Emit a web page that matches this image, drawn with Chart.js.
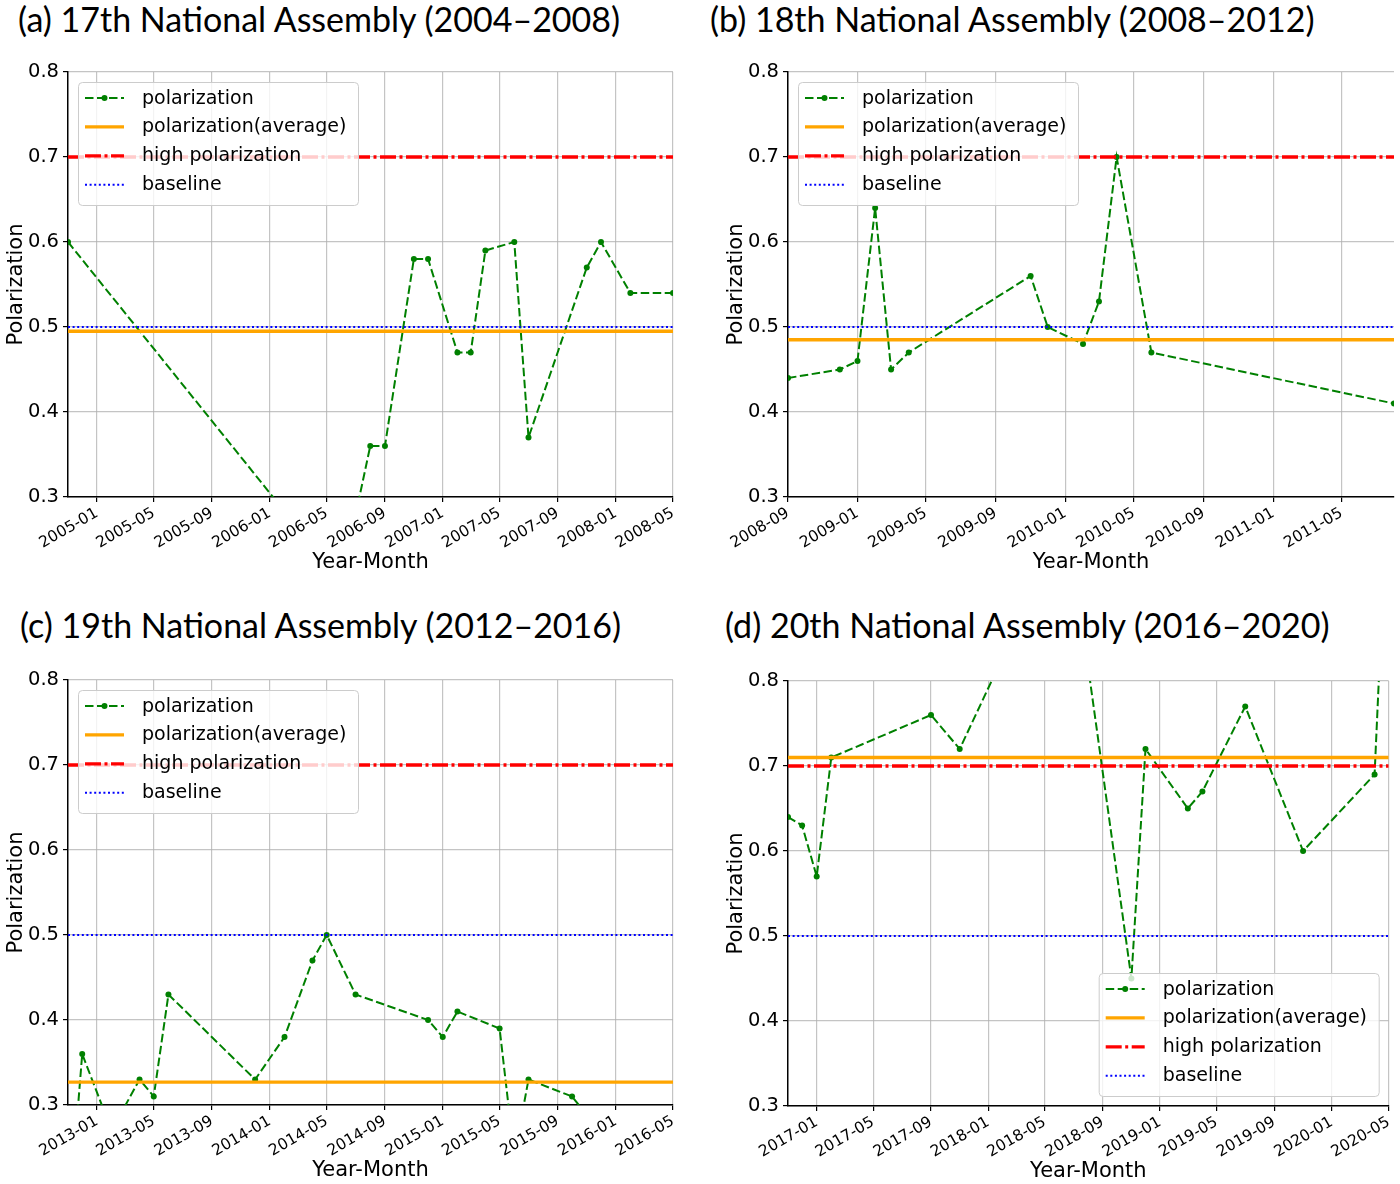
<!DOCTYPE html>
<html>
<head>
<meta charset="utf-8">
<script src="https://cdn.jsdelivr.net/npm/chart.js@4.4.1/dist/chart.umd.min.js"></script>
<style>
  body { margin: 0; width: 1400px; height: 1184px; overflow: hidden; position: relative; background: #fff; }
  .title { position: absolute; font-family: Lato, 'Open Sans', sans-serif; font-size: 34px; line-height: 1; color: #000; white-space: nowrap; }
  .box { position: absolute; }
</style>
</head>
<body>
<div class="title" style="left:18px;top:2px">(a) 17th National Assembly (2004–2008)</div>
<div class="title" style="left:710px;top:2px">(b) 18th National Assembly (2008–2012)</div>
<div class="title" style="left:20px;top:608px">(c) 19th National Assembly (2012–2016)</div>
<div class="title" style="left:725px;top:608px">(d) 20th National Assembly (2016–2020)</div>

<div class="box" style="left:0;top:40px;width:700px;height:535px"><canvas id="chart17"></canvas></div>
<div class="box" style="left:720px;top:40px;width:680px;height:535px"><canvas id="chart18"></canvas></div>
<div class="box" style="left:0;top:648px;width:700px;height:535px"><canvas id="chart19"></canvas></div>
<div class="box" style="left:720px;top:649px;width:680px;height:535px"><canvas id="chart20"></canvas></div>

<script>
// 17th National Assembly
const months17 = ['2004-11', '2006-06', '2006-08', '2006-09', '2006-11', '2006-12', '2007-02', '2007-03',
  '2007-04', '2007-06', '2007-07', '2007-11', '2007-12', '2008-02', '2008-05'];
const polar17 = [0.60, 0.20, 0.36, 0.36, 0.58, 0.58, 0.47, 0.47, 0.59, 0.60, 0.37, 0.57, 0.60, 0.54, 0.54];
const ticks17 = ['2005-01', '2005-05', '2005-09', '2006-01', '2006-05', '2006-09', '2007-01', '2007-05',
  '2007-09', '2008-01', '2008-05'];
const avg17 = 0.495;

// 18th National Assembly
const months18 = ['2008-09', '2008-12', '2009-01', '2009-02', '2009-03', '2009-04', '2009-11', '2009-12',
  '2010-02', '2010-03', '2010-04', '2010-06', '2011-08'];
const polar18 = [0.44, 0.45, 0.46, 0.64, 0.45, 0.47, 0.56, 0.50, 0.48, 0.53, 0.70, 0.47, 0.41];
const ticks18 = ['2008-09', '2009-01', '2009-05', '2009-09', '2010-01', '2010-05', '2010-09', '2011-01', '2011-05'];
const avg18 = 0.485;

// 19th National Assembly
const months19 = ['2012-11', '2012-12', '2013-02', '2013-04', '2013-05', '2013-06', '2013-12', '2014-02',
  '2014-04', '2014-05', '2014-07', '2014-12', '2015-01', '2015-02', '2015-05', '2015-06', '2015-07',
  '2015-10', '2016-05'];
const polar19 = [0.15, 0.36, 0.27, 0.33, 0.31, 0.43, 0.33, 0.38, 0.47, 0.50, 0.43, 0.40, 0.38, 0.41,
  0.39, 0.24, 0.33, 0.31, 0.16];
const ticks19 = ['2013-01', '2013-05', '2013-09', '2014-01', '2014-05', '2014-09', '2015-01', '2015-05',
  '2015-09', '2016-01', '2016-05'];
const avg19 = 0.327;

// 20th National Assembly
const months20 = ['2016-11', '2016-12', '2017-01', '2017-02', '2017-09', '2017-11', '2018-06', '2018-07',
  '2018-11', '2018-12', '2019-03', '2019-04', '2019-07', '2019-11', '2020-04', '2020-05'];
const polar20 = [0.64, 0.63, 0.57, 0.71, 0.76, 0.72, 0.97, 0.94, 0.45, 0.72, 0.65, 0.67, 0.77, 0.60, 0.69, 1.06];
const ticks20 = ['2017-01', '2017-05', '2017-09', '2018-01', '2018-05', '2018-09', '2019-01', '2019-05',
  '2019-09', '2020-01', '2020-05'];
const avg20 = 0.71;

const highLevel = 0.7;
const baseLevel = 0.5;
const yTicks = [0.3, 0.4, 0.5, 0.6, 0.7, 0.8];

const FONT = "'DejaVu Sans', sans-serif";

// 'YYYY-MM' -> days since epoch, so months keep their real length like matplotlib dates
const toDay = s => {
  const [y, m] = s.split('-').map(Number);
  return Date.UTC(y, m - 1, 1) / 864e5;
};
const fmtDay = v => {
  const d = new Date(v * 864e5);
  return d.getUTCFullYear() + '-' + String(d.getUTCMonth() + 1).padStart(2, '0');
};

// matplotlib style legend drawn inside the plot
const innerLegend = {
  id: 'innerLegend',
  afterDraw(chart, args, opts) {
    const { ctx, chartArea: a } = chart;
    const w = 280, h = 123, m = 10;
    const x = opts.corner === 'lower right' ? a.right - m - w : a.left + m;
    const y = opts.corner === 'lower right' ? a.bottom - m - h : a.top + m;
    ctx.save();
    ctx.beginPath();
    ctx.roundRect(x + 0.5, y + 0.5, w, h, 4);
    ctx.fillStyle = 'rgba(255,255,255,0.8)';
    ctx.fill();
    ctx.strokeStyle = '#cccccc';
    ctx.lineWidth = 1;
    ctx.stroke();
    chart.data.datasets.forEach((ds, i) => {
      const cy = y + 16 + i * 28.9;
      ctx.beginPath();
      ctx.setLineDash(ds.borderDash || []);
      ctx.strokeStyle = ds.borderColor;
      ctx.lineWidth = ds.borderWidth;
      ctx.moveTo(x + 7, cy);
      ctx.lineTo(x + 46, cy);
      ctx.stroke();
      ctx.setLineDash([]);
      if (ds.pointRadius) {
        ctx.beginPath();
        ctx.fillStyle = ds.borderColor;
        ctx.arc(x + 26.5, cy, ds.pointRadius, 0, Math.PI * 2);
        ctx.fill();
      }
      ctx.fillStyle = '#000';
      ctx.font = '19px ' + FONT;
      ctx.textBaseline = 'alphabetic';
      ctx.fillText(ds.label, x + 64, cy + 5.5);
    });
    ctx.restore();
  }
};

function makePanel(id, months, values, tickLabels, avg, corner, padRight) {
  const x0 = toDay(months[0]);
  const x1 = toDay(months[months.length - 1]);
  const flat = v => [{ x: x0, y: v }, { x: x1, y: v }];
  new Chart(document.getElementById(id), {
    type: 'line',
    data: {
      datasets: [
        {
          label: 'polarization',
          data: months.map((m, i) => ({ x: toDay(m), y: values[i] })),
          borderColor: '#008000',
          backgroundColor: '#008000',
          borderWidth: 2,
          borderDash: [8.5, 3.5],
          pointRadius: 3,
          pointBorderWidth: 0,
          pointBackgroundColor: '#008000',
          tension: 0,
          clip: 0,
          order: 4
        },
        {
          label: 'polarization(average)',
          data: flat(avg),
          borderColor: '#FFA500',
          borderWidth: 3.3,
          pointRadius: 0,
          clip: 0,
          order: 3
        },
        {
          label: 'high polarization',
          data: flat(highLevel),
          borderColor: '#FF0000',
          borderWidth: 3.3,
          borderDash: [16, 3.5, 3, 3.5],
          pointRadius: 0,
          clip: 0,
          order: 2
        },
        {
          label: 'baseline',
          data: flat(baseLevel),
          borderColor: '#0000FF',
          borderWidth: 2,
          borderDash: [2, 2.6],
          pointRadius: 0,
          clip: 0,
          order: 1
        }
      ]
    },
    options: {
      responsive: true,
      maintainAspectRatio: false,
      animation: false,
      devicePixelRatio: 1,
      layout: { padding: { left: 0, right: padRight, top: 32, bottom: 0 } },
      plugins: {
        legend: { display: false },
        tooltip: { enabled: false },
        innerLegend: { corner }
      },
      scales: {
        x: {
          type: 'linear',
          min: x0,
          max: x1,
          afterBuildTicks: axis => { axis.ticks = tickLabels.map(t => ({ value: toDay(t) })); },
          afterFit: scale => { scale.height = 78; },
          grid: { color: 'rgba(176,176,176,0.75)', lineWidth: 1.2, tickLength: 5, tickColor: '#000', tickWidth: 1.2 },
          border: { display: true, color: '#000', width: 1.5 },
          ticks: {
            autoSkip: false,
            minRotation: 30,
            maxRotation: 30,
            padding: 2,
            color: '#000',
            font: { family: FONT, size: 15.5 },
            callback: v => fmtDay(v)
          },
          title: {
            display: true,
            text: 'Year-Month',
            color: '#000',
            font: { family: FONT, size: 21 },
            padding: { top: 0, bottom: 0 }
          }
        },
        y: {
          min: yTicks[0],
          max: yTicks[yTicks.length - 1],
          afterBuildTicks: axis => { axis.ticks = yTicks.map(v => ({ value: v })); },
          afterFit: scale => { scale.width = 68; },
          grid: { color: 'rgba(176,176,176,0.75)', lineWidth: 1.2, tickLength: 5, tickColor: '#000', tickWidth: 1.2 },
          border: { display: true, color: '#000', width: 1.5 },
          ticks: {
            padding: 4,
            color: '#000',
            font: { family: FONT, size: 19.5 },
            callback: v => v.toFixed(1)
          },
          title: {
            display: true,
            text: 'Polarization',
            color: '#000',
            font: { family: FONT, size: 21 },
            padding: { top: 4, bottom: 0 }
          }
        }
      }
    },
    plugins: [innerLegend]
  });
}

makePanel('chart17', months17, polar17, ticks17, avg17, 'upper left', 27);
makePanel('chart18', months18, polar18, ticks18, avg18, 'upper left', 6);
makePanel('chart19', months19, polar19, ticks19, avg19, 'upper left', 27);
makePanel('chart20', months20, polar20, ticks20, avg20, 'lower right', 6);
</script>
</body>
</html>
